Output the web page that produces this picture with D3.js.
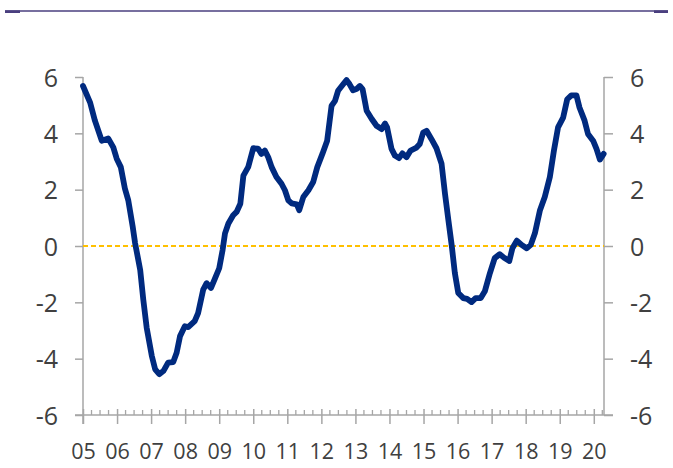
<!DOCTYPE html>
<html><head><meta charset="utf-8">
<script src="https://cdn.jsdelivr.net/npm/d3@7"></script>
<style>body{margin:0;background:#fff}svg{display:block}text{font-family:"Open Sans",sans-serif;fill:#404040}</style>
</head><body><svg id="c" width="673" height="468"></svg>
<script>
const dates = [2005.00,2005.21,2005.35,2005.55,2005.74,2005.89,2005.99,2006.11,2006.23,2006.33,2006.46,2006.53,2006.68,2006.77,2006.87,2007.02,2007.12,2007.24,2007.36,2007.50,2007.65,2007.75,2007.85,2007.99,2008.09,2008.28,2008.38,2008.53,2008.63,2008.76,2008.88,2009.00,2009.10,2009.17,2009.27,2009.41,2009.51,2009.62,2009.71,2009.85,2010.00,2010.14,2010.24,2010.34,2010.44,2010.54,2010.68,2010.83,2010.93,2011.03,2011.13,2011.28,2011.35,2011.47,2011.62,2011.76,2011.88,2012.03,2012.17,2012.30,2012.40,2012.49,2012.64,2012.74,2012.83,2012.93,2013.03,2013.13,2013.21,2013.33,2013.48,2013.62,2013.77,2013.87,2013.93,2014.06,2014.16,2014.28,2014.38,2014.50,2014.62,2014.78,2014.89,2014.99,2015.09,2015.23,2015.38,2015.53,2015.63,2015.73,2015.83,2015.92,2016.02,2016.17,2016.28,2016.41,2016.53,2016.68,2016.80,2016.95,2017.09,2017.24,2017.38,2017.52,2017.61,2017.74,2017.88,2018.03,2018.15,2018.27,2018.42,2018.56,2018.71,2018.83,2018.95,2019.10,2019.22,2019.34,2019.49,2019.58,2019.73,2019.83,2019.98,2020.08,2020.18,2020.29];
const values = [5.68,5.09,4.45,3.74,3.82,3.5,3.1,2.8,2.04,1.62,0.68,0.1,-0.85,-1.9,-2.9,-3.9,-4.38,-4.55,-4.44,-4.14,-4.12,-3.79,-3.2,-2.85,-2.88,-2.67,-2.38,-1.55,-1.32,-1.49,-1.14,-0.79,-0.14,0.45,0.8,1.09,1.21,1.5,2.5,2.8,3.47,3.46,3.27,3.39,3.15,2.8,2.45,2.21,1.98,1.62,1.51,1.48,1.27,1.74,1.98,2.27,2.8,3.27,3.74,4.98,5.15,5.51,5.74,5.89,5.74,5.53,5.57,5.68,5.57,4.8,4.51,4.27,4.15,4.35,4.21,3.45,3.21,3.12,3.29,3.15,3.39,3.48,3.62,4.03,4.09,3.8,3.47,2.92,1.86,0.92,0,-0.96,-1.67,-1.85,-1.88,-1.99,-1.85,-1.85,-1.61,-0.96,-0.43,-0.29,-0.43,-0.53,-0.08,0.19,0.04,-0.08,0.04,0.45,1.27,1.74,2.45,3.39,4.21,4.56,5.21,5.35,5.35,4.92,4.45,3.98,3.74,3.45,3.07,3.27];
const yTicks = [-6,-4,-2,0,2,4,6];
const yearTicks = [2005,2006,2007,2008,2009,2010,2011,2012,2013,2014,2015,2016,2017,2018,2019,2020];
const yearLabels = ["05","06","07","08","09","10","11","12","13","14","15","16","17","18","19","20"];

const svg = d3.select("#c");
const x = d3.scaleLinear().domain([2005, 2020.3]).range([83, 604]);
const y = d3.scaleLinear().domain([-6, 6]).range([415, 77]);
const axisCol = "#a6a6a6";

// top decorative rule
svg.append("line").attr("x1",5).attr("x2",668).attr("y1",11).attr("y2",11).attr("stroke","#4a3f7f").attr("stroke-width",1.3);
svg.append("rect").attr("x",5).attr("y",10.4).attr("width",15).attr("height",2.6).attr("fill","#4a3f7f");
svg.append("rect").attr("x",654).attr("y",10.4).attr("width",14).attr("height",2.6).attr("fill","#4a3f7f");

const fmt = d => String(d);
// left axis
const la = svg.append("g").attr("transform","translate(83,0)")
  .call(d3.axisLeft(y).tickValues(yTicks).tickSize(8).tickPadding(17).tickFormat(fmt));
// right axis
const ra = svg.append("g").attr("transform","translate(604,0)")
  .call(d3.axisRight(y).tickValues(yTicks).tickSize(9).tickPadding(17).tickFormat(fmt));
[la, ra].forEach(g => {
  g.select(".domain").attr("stroke",axisCol).attr("stroke-width",1.5).attr("d", g===la ? "M0,77V424" : "M0,77V415");
  g.selectAll(".tick line").attr("stroke",axisCol).attr("stroke-width",1.5);
  g.selectAll("text").style("font-size","25px").attr("fill","#404040").attr("font-family",null).attr("dy","0.36em");
});

// bottom axis
svg.append("line").attr("x1",75).attr("x2",613).attr("y1",415).attr("y2",415).attr("stroke",axisCol).attr("stroke-width",1.5);
const minor = d3.range(2005, 2020.3, 0.25).filter(d => Math.abs(d - Math.round(d)) > 0.01);
svg.append("g").selectAll("line").data(minor).join("line")
  .attr("x1",d=>x(d)).attr("x2",d=>x(d)).attr("y1",410).attr("y2",415)
  .attr("stroke",axisCol).attr("stroke-width",1.3);
const xa = svg.append("g").attr("transform","translate(0,415)")
  .call(d3.axisBottom(x).tickValues(yearTicks).tickSize(9).tickPadding(20).tickFormat((d,i)=>yearLabels[i]));
xa.select(".domain").remove();
xa.selectAll(".tick line").attr("y1",-6).attr("stroke",axisCol).attr("stroke-width",1.5);
xa.selectAll(".tick text").style("font-size","21.5px").attr("fill","#404040").attr("font-family",null);

// zero line
svg.append("line").attr("x1",x(2005)).attr("x2",604).attr("y1",y(0)).attr("y2",y(0))
  .attr("stroke","#ffc000").attr("stroke-width",2).attr("stroke-dasharray","5,3");

// series
const line = d3.line().x((d,i)=>x(dates[i])).y(d=>y(d)).curve(d3.curveLinear);
svg.append("path").datum(values).attr("d",line).attr("fill","none")
  .attr("stroke","#002a7f").attr("stroke-width",5.8).attr("stroke-linejoin","round").attr("stroke-linecap","round");
</script></body></html>
